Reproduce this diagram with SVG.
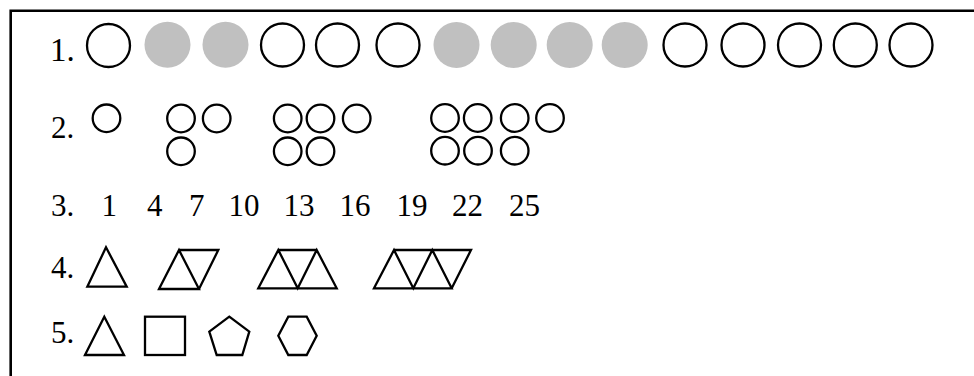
<svg xmlns="http://www.w3.org/2000/svg" width="974" height="376" viewBox="0 0 974 376">
<style>
.t{font-family:"Liberation Serif","Times New Roman",serif;font-size:31px;fill:#000}
.o{fill:none;stroke:#000;stroke-width:2.3}
.g{fill:#c0c0c0;stroke:none}
.s{fill:none;stroke:#000;stroke-width:2.3;stroke-linejoin:miter}
</style>
<rect width="974" height="376" fill="#fff"/>
<path d="M10.7 376 V10.7 H974" fill="none" stroke="#000" stroke-width="2.6"/>
<g id="row1">
<text class="t" x="50" y="61" style="font-size:33px">1.</text>
<circle class="o" cx="108.5" cy="45.5" r="21.5"/>
<circle class="g" cx="167.5" cy="44.7" r="23"/>
<circle class="g" cx="225.5" cy="44.7" r="23"/>
<circle class="o" cx="282.5" cy="45" r="21.5"/>
<circle class="o" cx="337.5" cy="45" r="21.5"/>
<circle class="o" cx="398" cy="45" r="21.5"/>
<circle class="g" cx="456.5" cy="45" r="23"/>
<circle class="g" cx="513.7" cy="45" r="23"/>
<circle class="g" cx="569.7" cy="45" r="23"/>
<circle class="g" cx="624.7" cy="45" r="23"/>
<circle class="o" cx="685" cy="45" r="21.5"/>
<circle class="o" cx="743" cy="45" r="21.5"/>
<circle class="o" cx="799.5" cy="45" r="21.5"/>
<circle class="o" cx="855.3" cy="45" r="21.5"/>
<circle class="o" cx="911" cy="45" r="21.5"/>
</g>
<g id="row2">
<text class="t" x="51" y="138">2.</text>
<circle class="o" cx="106.5" cy="118.3" r="13.8"/>
<circle class="o" cx="181" cy="118.5" r="13.8"/>
<circle class="o" cx="216.7" cy="118.5" r="13.8"/>
<circle class="o" cx="181" cy="151.3" r="13.8"/>
<circle class="o" cx="287.7" cy="118.5" r="13.8"/>
<circle class="o" cx="320.5" cy="118.5" r="13.8"/>
<circle class="o" cx="356.7" cy="118.5" r="13.8"/>
<circle class="o" cx="287.7" cy="151.3" r="13.8"/>
<circle class="o" cx="320.5" cy="151.3" r="13.8"/>
<circle class="o" cx="445" cy="118" r="13.8"/>
<circle class="o" cx="477.7" cy="118" r="13.8"/>
<circle class="o" cx="514.7" cy="118" r="13.8"/>
<circle class="o" cx="550" cy="118" r="13.8"/>
<circle class="o" cx="445" cy="150.7" r="13.8"/>
<circle class="o" cx="478" cy="150.7" r="13.8"/>
<circle class="o" cx="514.7" cy="150.7" r="13.8"/>
</g>
<g id="row3">
<text class="t" x="51" y="216">3.</text>
<text class="t" x="101.5" y="216">1</text>
<text class="t" x="147" y="216">4</text>
<text class="t" x="189" y="216">7</text>
<text class="t" x="228.5" y="216">10</text>
<text class="t" x="283.5" y="216">13</text>
<text class="t" x="339.5" y="216">16</text>
<text class="t" x="396.5" y="216">19</text>
<text class="t" x="452" y="216">22</text>
<text class="t" x="509" y="216">25</text>
</g>
<g id="row4">
<text class="t" x="51" y="278">4.</text>
<path class="s" d="M87.3 286.7 L106 247.3 L126.7 286.7 Z"/>
<path class="s" d="M159 289 L179 250 L199 289 Z M179 250 H218.3 L199 289"/>
<path class="s" d="M258.3 288.3 L278.3 250 L297.7 288.3 L316.7 250 L336.7 288.3 Z M278.3 250 H316.7"/>
<path class="s" d="M374 288.3 L394 250 L413.3 288.3 L432.3 250 L451.7 288.3 Z M394 250 H471 L451.7 288.3"/>
</g>
<g id="row5">
<text class="t" x="51" y="343">5.</text>
<path class="s" d="M85 355 L104.3 316.7 L124 355 Z"/>
<rect class="s" x="145" y="316.7" width="40" height="38.3"/>
<path class="s" d="M229.3 316.7 L249.3 331.7 L242.3 355 L216.7 355 L209.3 331.7 Z"/>
<path class="s" d="M288.3 316.7 L306.7 316.7 L316.7 335.7 L306.7 355 L288.3 355 L278.3 335.7 Z"/>
</g>
</svg>
